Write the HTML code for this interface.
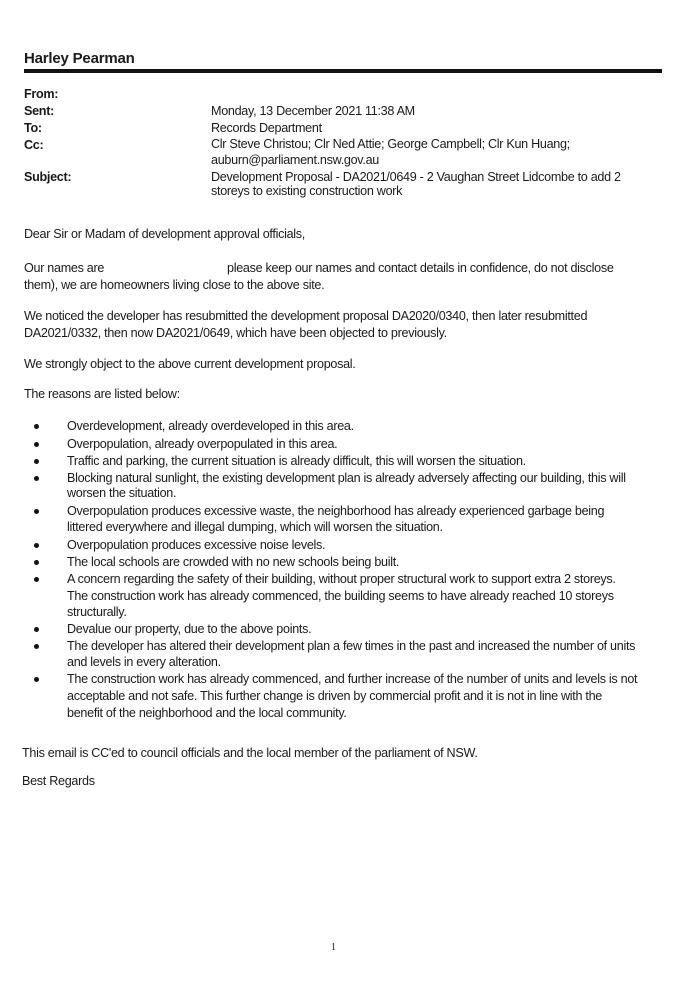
<!DOCTYPE html>
<html><head><meta charset="utf-8"><style>
html,body{margin:0;padding:0;background:#fff;}
body{width:694px;height:989px;position:relative;overflow:hidden;font-family:"Liberation Sans",sans-serif;color:#1a1a1a;}
.l{position:absolute;font-size:12.6px;line-height:16px;white-space:nowrap;letter-spacing:-0.3px;}
.b{font-weight:bold;}
.dot{position:absolute;left:34px;width:5px;height:5px;border-radius:50%;background:#111;}
</style></head><body>
<div class="l b" style="left:24px;top:51px;font-size:15px;letter-spacing:-0.2px">Harley Pearman</div>
<div style="position:absolute;left:24px;top:69px;width:638px;height:4px;background:#111"></div>
<div class="l b" style="left:24px;top:86px">From:</div>
<div class="l b" style="left:24px;top:103px">Sent:</div>
<div class="l b" style="left:24px;top:120px">To:</div>
<div class="l b" style="left:24px;top:137px">Cc:</div>
<div class="l b" style="left:24px;top:169px">Subject:</div>
<div class="l" style="left:211px;top:103px">Monday, 13 December 2021 11:38 AM</div>
<div class="l" style="left:211px;top:120px">Records Department</div>
<div class="l" style="left:211px;top:136px">Clr Steve Christou; Clr Ned Attie; George Campbell; Clr Kun Huang;</div>
<div class="l" style="left:211px;top:152px">auburn@parliament.nsw.gov.au</div>
<div class="l" style="left:211px;top:169px">Development Proposal - DA2021/0649 - 2 Vaughan Street Lidcombe to add 2</div>
<div class="l" style="left:211px;top:183px">storeys to existing construction work</div>

<div class="l" style="left:24px;top:226px">Dear Sir or Madam of development approval officials,</div>
<div class="l" style="left:24px;top:260px">Our names are</div>
<div class="l" style="left:227px;top:260px">please keep our names and contact details in confidence, do not disclose</div>
<div class="l" style="left:24px;top:277px">them), we are homeowners living close to the above site.</div>
<div class="l" style="left:24px;top:308px">We noticed the developer has resubmitted the development proposal DA2020/0340, then later resubmitted</div>
<div class="l" style="left:24px;top:325px">DA2021/0332, then now DA2021/0649, which have been objected to previously.</div>
<div class="l" style="left:24px;top:356px">We strongly object to the above current development proposal.</div>
<div class="l" style="left:24px;top:386px">The reasons are listed below:</div>

<div class="dot" style="top:424px"></div><div class="l" style="left:67px;top:418px">Overdevelopment, already overdeveloped in this area.</div>
<div class="dot" style="top:442px"></div><div class="l" style="left:67px;top:436px">Overpopulation, already overpopulated in this area.</div>
<div class="dot" style="top:459px"></div><div class="l" style="left:67px;top:453px">Traffic and parking, the current situation is already difficult, this will worsen the situation.</div>
<div class="dot" style="top:476px"></div><div class="l" style="left:67px;top:470px">Blocking natural sunlight, the existing development plan is already adversely affecting our building, this will</div>
<div class="l" style="left:67px;top:485px">worsen the situation.</div>
<div class="dot" style="top:509px"></div><div class="l" style="left:67px;top:503px">Overpopulation produces excessive waste, the neighborhood has already experienced garbage being</div>
<div class="l" style="left:67px;top:519px">littered everywhere and illegal dumping, which will worsen the situation.</div>
<div class="dot" style="top:543px"></div><div class="l" style="left:67px;top:537px">Overpopulation produces excessive noise levels.</div>
<div class="dot" style="top:560px"></div><div class="l" style="left:67px;top:554px">The local schools are crowded with no new schools being built.</div>
<div class="dot" style="top:577px"></div><div class="l" style="left:67px;top:571px">A concern regarding the safety of their building, without proper structural work to support extra 2 storeys.</div>
<div class="l" style="left:67px;top:588px">The construction work has already commenced, the building seems to have already reached 10 storeys</div>
<div class="l" style="left:67px;top:604px">structurally.</div>
<div class="dot" style="top:627px"></div><div class="l" style="left:67px;top:621px">Devalue our property, due to the above points.</div>
<div class="dot" style="top:644px"></div><div class="l" style="left:67px;top:638px">The developer has altered their development plan a few times in the past and increased the number of units</div>
<div class="l" style="left:67px;top:654px">and levels in every alteration.</div>
<div class="dot" style="top:677px"></div><div class="l" style="left:67px;top:671px">The construction work has already commenced, and further increase of the number of units and levels is not</div>
<div class="l" style="left:67px;top:688px">acceptable and not safe. This further change is driven by commercial profit and it is not in line with the</div>
<div class="l" style="left:67px;top:705px">benefit of the neighborhood and the local community.</div>

<div class="l" style="left:22px;top:745px">This email is CC'ed to council officials and the local member of the parliament of NSW.</div>
<div class="l" style="left:22px;top:773px">Best Regards</div>
<div class="l" style="left:331px;top:940px;font-size:10px;font-family:'Liberation Serif',serif">1</div>
</body></html>
